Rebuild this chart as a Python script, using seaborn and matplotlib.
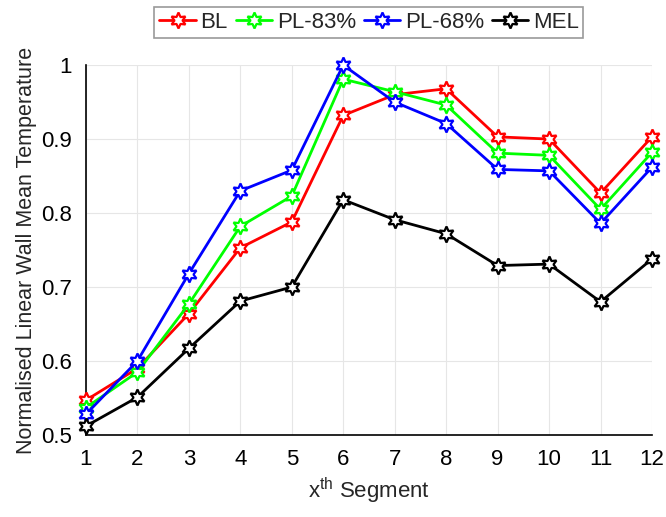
import matplotlib
matplotlib.use('Agg')
import matplotlib.pyplot as plt
import seaborn as sns
import pandas as pd

# Segment positions
segments = list(range(1, 13))

# Normalised wall temperature per case
bl = [0.547, 0.590, 0.664, 0.753, 0.788, 0.932, 0.960, 0.968, 0.903, 0.900, 0.827, 0.903]
pl83 = [0.537, 0.585, 0.677, 0.782, 0.823, 0.981, 0.964, 0.946, 0.881, 0.878, 0.805, 0.882]
pl68 = [0.528, 0.600, 0.718, 0.830, 0.858, 1.000, 0.950, 0.921, 0.859, 0.857, 0.786, 0.862]
mel = [0.512, 0.551, 0.617, 0.681, 0.700, 0.818, 0.791, 0.772, 0.729, 0.731, 0.680, 0.738]

labels = ['BL', 'PL-83%', 'PL-68%', 'MEL']
colors = ['#ff0000', '#00ff00', '#0000ff', '#000000']

df = pd.DataFrame({'BL': bl, 'PL-83%': pl83, 'PL-68%': pl68, 'MEL': mel}, index=segments)

sns.set_style('white')
plt.rcParams['font.family'] = ['Liberation Sans', 'DejaVu Sans']
plt.rcParams['mathtext.fontset'] = 'custom'
plt.rcParams['mathtext.rm'] = 'Liberation Sans'

fig = plt.figure(figsize=(6.66, 5.17), dpi=100)
ax = fig.add_axes([0.129, 0.1586, 0.850, 0.7155])

for lab, col in zip(labels, colors):
    sns.lineplot(x=df.index, y=df[lab], ax=ax, color=col, label=lab,
                 linewidth=2, marker=(6, 1, 0), markersize=11.5,
                 markerfacecolor='white', markeredgecolor=col, markeredgewidth=1.6,
                 clip_on=False, zorder=3)

ax.set_xlim(1, 12)
ax.set_ylim(0.5, 1.0)
ax.set_xticks(segments)
ax.set_yticks([0.5, 0.6, 0.7, 0.8, 0.9, 1.0])
ax.set_yticklabels(['0.5', '0.6', '0.7', '0.8', '0.9', '1'])
ax.grid(True, color='#e6e6e6', linewidth=0.8)
ax.set_axisbelow(True)
for s in ['top', 'right']:
    ax.spines[s].set_visible(False)
for s in ['left', 'bottom']:
    ax.spines[s].set_color('black')
    ax.spines[s].set_linewidth(1.2)
ax.tick_params(axis='both', direction='out', length=4, width=1, labelsize=16, colors='black', pad=6)

ax.set_xlabel(r'x$^{\mathrm{th}}$ Segment', fontsize=16, labelpad=4)
ax.set_ylabel('Normalised Linear Wall Mean Temperature', fontsize=15.5, labelpad=3)

leg = ax.legend(loc='upper center', bbox_to_anchor=(0.5, 1.156), ncol=4, fontsize=16,
                frameon=True, fancybox=False, handlelength=1.65, handletextpad=0.2,
                columnspacing=0.35, borderpad=0.22, borderaxespad=0)
leg.get_frame().set_edgecolor('#808080')
leg.get_frame().set_linewidth(1.2)

fig.savefig('out.png', dpi=100)
